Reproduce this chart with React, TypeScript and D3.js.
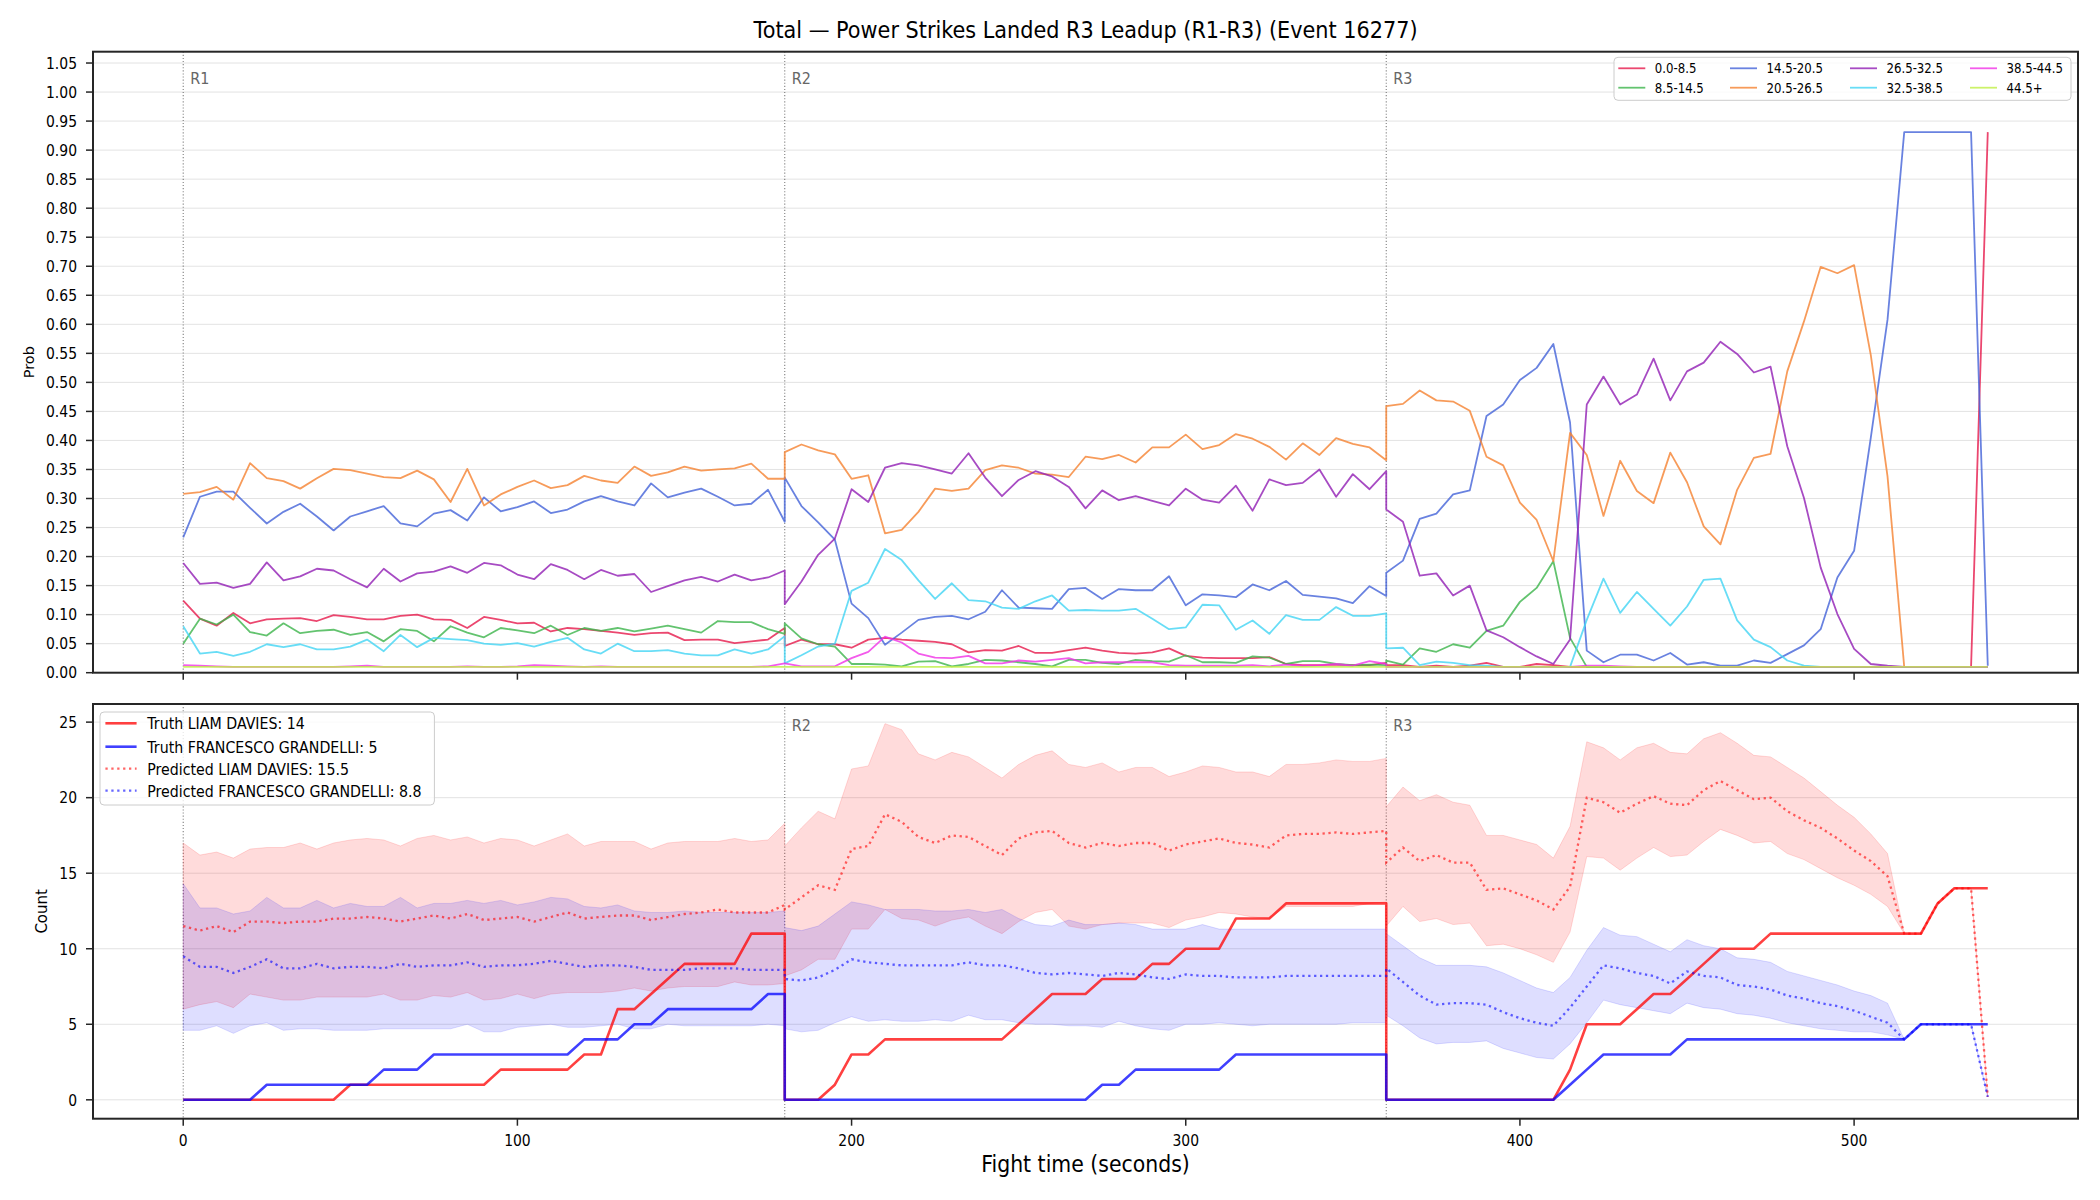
import React from "react";
import * as d3 from "d3";

// ---------------------------------------------------------------------------
// Sampling grid: each round is sampled every 5 s; consecutive rounds share
// their boundary second, so the series jump vertically at 180 s and 360 s.
// ---------------------------------------------------------------------------
const ROUND_STARTS = [0, 180, 360];
const ROUND_NAMES = ["R1", "R2", "R3"];
const ROUND_SECONDS = 180;
const STEP_SECONDS = 5;
const TIMES: number[] = ROUND_STARTS.flatMap((s) =>
  d3.range(s, s + ROUND_SECONDS + 1, STEP_SECONDS)
);

const X_TICKS = [0, 100, 200, 300, 400, 500];
const PROB_TICKS = [
  0, 0.05, 0.1, 0.15, 0.2, 0.25, 0.3, 0.35, 0.4, 0.45, 0.5, 0.55, 0.6, 0.65,
  0.7, 0.75, 0.8, 0.85, 0.9, 0.95, 1.0, 1.05,
];
const COUNT_TICKS = [0, 5, 10, 15, 20, 25];

// ---------------------------------------------------------------------------
// Outcome-bin probabilities (top panel)
// ---------------------------------------------------------------------------
const BIN_LABELS = [
  "0.0-8.5", "8.5-14.5", "14.5-20.5", "20.5-26.5",
  "26.5-32.5", "32.5-38.5", "38.5-44.5", "44.5+",
];
const BIN_COLORS = [
  "#e6194b", "#3cb44b", "#4363d8", "#f58231",
  "#911eb4", "#42d4f4", "#f032e6", "#bfef45",
];

const BIN_0_85 = [
  0.124, 0.093, 0.081, 0.103, 0.085, 0.092, 0.093, 0.094, 0.089, 0.099,
  0.096, 0.092, 0.092, 0.098, 0.100, 0.092, 0.091, 0.077, 0.096, 0.091,
  0.085, 0.086, 0.071, 0.077, 0.075, 0.072, 0.069, 0.065, 0.068, 0.069,
  0.056, 0.057, 0.057, 0.051, 0.054, 0.057, 0.077,
  0.046, 0.057, 0.049, 0.049, 0.043, 0.057, 0.060, 0.057, 0.055, 0.053,
  0.049, 0.035, 0.039, 0.038, 0.046, 0.034, 0.034, 0.039, 0.043, 0.038,
  0.034, 0.033, 0.035, 0.042, 0.029, 0.026, 0.025, 0.025, 0.025, 0.027,
  0.015, 0.013, 0.013, 0.014, 0.013, 0.013, 0.017,
  0.013, 0.013, 0.010, 0.012, 0.010, 0.012, 0.017, 0.010, 0.010, 0.015,
  0.013, 0.010, 0.010, 0.010, 0.010, 0.010, 0.010, 0.010, 0.010, 0.010,
  0.010, 0.010, 0.010, 0.010, 0.010, 0.010, 0.010, 0.010, 0.010, 0.010,
  0.010, 0.010, 0.010, 0.010, 0.010, 0.010, 0.931,
];
const BIN_85_145 = [
  0.050, 0.093, 0.083, 0.100, 0.070, 0.064, 0.085, 0.068, 0.072, 0.074,
  0.065, 0.070, 0.054, 0.075, 0.072, 0.054, 0.080, 0.069, 0.061, 0.077,
  0.073, 0.068, 0.081, 0.065, 0.077, 0.072, 0.077, 0.071, 0.076, 0.081,
  0.075, 0.069, 0.089, 0.087, 0.087, 0.075, 0.067,
  0.085, 0.059, 0.049, 0.045, 0.015, 0.015, 0.014, 0.011, 0.019, 0.020,
  0.011, 0.015, 0.022, 0.021, 0.018, 0.015, 0.011, 0.022, 0.022, 0.017,
  0.015, 0.022, 0.020, 0.019, 0.030, 0.018, 0.018, 0.017, 0.028, 0.026,
  0.015, 0.020, 0.020, 0.015, 0.013, 0.014, 0.013,
  0.021, 0.014, 0.042, 0.036, 0.049, 0.043, 0.072, 0.081, 0.122, 0.146,
  0.192, 0.060, 0.010, 0.010, 0.010, 0.010, 0.010, 0.010, 0.010, 0.010,
  0.010, 0.010, 0.010, 0.010, 0.010, 0.010, 0.010, 0.010, 0.010, 0.010,
  0.010, 0.010, 0.010, 0.010, 0.010, 0.010, 0.010,
];
const BIN_145_205 = [
  0.233, 0.303, 0.312, 0.312, 0.284, 0.257, 0.277, 0.291, 0.269, 0.245,
  0.269, 0.278, 0.287, 0.257, 0.252, 0.274, 0.280, 0.262, 0.302, 0.278,
  0.285, 0.295, 0.275, 0.281, 0.295, 0.304, 0.295, 0.288, 0.326, 0.302,
  0.310, 0.317, 0.303, 0.288, 0.291, 0.315, 0.260,
  0.336, 0.287, 0.259, 0.229, 0.119, 0.094, 0.048, 0.069, 0.091, 0.096,
  0.098, 0.092, 0.105, 0.142, 0.112, 0.111, 0.110, 0.144, 0.146, 0.127,
  0.144, 0.142, 0.142, 0.166, 0.116, 0.135, 0.133, 0.130, 0.152, 0.142,
  0.158, 0.134, 0.131, 0.128, 0.120, 0.149, 0.132,
  0.172, 0.193, 0.265, 0.274, 0.307, 0.314, 0.442, 0.462, 0.504, 0.525,
  0.566, 0.431, 0.038, 0.018, 0.031, 0.031, 0.021, 0.034, 0.014, 0.018,
  0.012, 0.012, 0.021, 0.017, 0.032, 0.047, 0.075, 0.164, 0.210, 0.405,
  0.608, 0.931, 0.931, 0.931, 0.931, 0.931, 0.012,
];
const BIN_205_265 = [
  0.308, 0.311, 0.320, 0.298, 0.361, 0.335, 0.330, 0.317, 0.335, 0.351,
  0.349, 0.343, 0.337, 0.335, 0.348, 0.333, 0.294, 0.351, 0.288, 0.307,
  0.320, 0.331, 0.318, 0.323, 0.339, 0.331, 0.327, 0.355, 0.339, 0.345,
  0.355, 0.348, 0.350, 0.352, 0.360, 0.334, 0.334,
  0.380, 0.393, 0.383, 0.376, 0.334, 0.340, 0.240, 0.246, 0.277, 0.317,
  0.313, 0.317, 0.349, 0.357, 0.353, 0.343, 0.341, 0.337, 0.372, 0.368,
  0.375, 0.362, 0.388, 0.388, 0.410, 0.385, 0.392, 0.411, 0.403, 0.389,
  0.367, 0.395, 0.375, 0.404, 0.394, 0.388, 0.366,
  0.459, 0.463, 0.486, 0.469, 0.467, 0.451, 0.372, 0.357, 0.293, 0.263,
  0.192, 0.413, 0.375, 0.270, 0.365, 0.313, 0.292, 0.379, 0.328, 0.252,
  0.221, 0.315, 0.370, 0.377, 0.519, 0.605, 0.699, 0.688, 0.702, 0.547,
  0.338, 0.010, 0.010, 0.010, 0.010, 0.010, 0.010,
];
const BIN_265_325 = [
  0.189, 0.153, 0.155, 0.146, 0.153, 0.190, 0.159, 0.166, 0.179, 0.176,
  0.161, 0.147, 0.179, 0.157, 0.171, 0.174, 0.183, 0.172, 0.189, 0.185,
  0.169, 0.161, 0.187, 0.177, 0.161, 0.177, 0.167, 0.170, 0.139, 0.149,
  0.159, 0.165, 0.157, 0.169, 0.159, 0.164, 0.176,
  0.118, 0.157, 0.203, 0.231, 0.316, 0.294, 0.353, 0.361, 0.357, 0.350,
  0.343, 0.378, 0.336, 0.304, 0.332, 0.347, 0.338, 0.320, 0.283, 0.314,
  0.297, 0.304, 0.296, 0.288, 0.317, 0.298, 0.293, 0.322, 0.279, 0.333,
  0.323, 0.327, 0.350, 0.303, 0.342, 0.316, 0.347,
  0.281, 0.260, 0.167, 0.171, 0.133, 0.150, 0.073, 0.061, 0.044, 0.028,
  0.015, 0.057, 0.462, 0.510, 0.462, 0.479, 0.541, 0.469, 0.519, 0.534,
  0.570, 0.549, 0.517, 0.527, 0.390, 0.301, 0.181, 0.101, 0.041, 0.015,
  0.012, 0.010, 0.010, 0.010, 0.010, 0.010, 0.010,
];
const BIN_325_385 = [
  0.080, 0.033, 0.036, 0.029, 0.036, 0.049, 0.044, 0.049, 0.040, 0.040,
  0.045, 0.057, 0.037, 0.065, 0.044, 0.060, 0.058, 0.056, 0.050, 0.048,
  0.051, 0.045, 0.053, 0.060, 0.040, 0.033, 0.050, 0.037, 0.037, 0.039,
  0.033, 0.030, 0.030, 0.040, 0.033, 0.040, 0.063,
  0.016, 0.030, 0.045, 0.050, 0.141, 0.155, 0.213, 0.194, 0.159, 0.127,
  0.154, 0.125, 0.123, 0.112, 0.110, 0.123, 0.133, 0.107, 0.108, 0.107,
  0.107, 0.110, 0.093, 0.075, 0.078, 0.117, 0.116, 0.074, 0.090, 0.067,
  0.099, 0.091, 0.091, 0.113, 0.098, 0.098, 0.102,
  0.042, 0.043, 0.013, 0.019, 0.017, 0.013, 0.012, 0.010, 0.010, 0.010,
  0.010, 0.010, 0.091, 0.162, 0.103, 0.139, 0.110, 0.081, 0.114, 0.160,
  0.162, 0.090, 0.057, 0.044, 0.021, 0.012, 0.010, 0.010, 0.010, 0.010,
  0.010, 0.010, 0.010, 0.010, 0.010, 0.010, 0.010,
];
const BIN_385_445 = [
  0.013, 0.012, 0.011, 0.010, 0.010, 0.010, 0.010, 0.010, 0.010, 0.010,
  0.011, 0.012, 0.010, 0.010, 0.010, 0.010, 0.010, 0.011, 0.010, 0.010,
  0.011, 0.013, 0.012, 0.011, 0.010, 0.011, 0.010, 0.010, 0.010, 0.010,
  0.010, 0.010, 0.010, 0.010, 0.010, 0.011, 0.016,
  0.016, 0.011, 0.011, 0.011, 0.025, 0.036, 0.062, 0.052, 0.033, 0.026,
  0.025, 0.029, 0.016, 0.016, 0.021, 0.019, 0.022, 0.025, 0.016, 0.018,
  0.018, 0.018, 0.018, 0.013, 0.012, 0.012, 0.012, 0.012, 0.013, 0.011,
  0.014, 0.012, 0.013, 0.015, 0.012, 0.020, 0.015,
  0.010, 0.010, 0.010, 0.010, 0.010, 0.010, 0.010, 0.010, 0.010, 0.010,
  0.010, 0.010, 0.012, 0.012, 0.011, 0.010, 0.010, 0.010, 0.010, 0.010,
  0.010, 0.010, 0.010, 0.010, 0.010, 0.010, 0.010, 0.010, 0.010, 0.010,
  0.010, 0.010, 0.010, 0.010, 0.010, 0.010, 0.010,
];
const BIN_445_UP = [
  0.010, 0.010, 0.010, 0.010, 0.010, 0.010, 0.010, 0.010, 0.010, 0.010,
  0.010, 0.010, 0.010, 0.010, 0.010, 0.010, 0.010, 0.010, 0.010, 0.010,
  0.010, 0.010, 0.010, 0.010, 0.010, 0.010, 0.010, 0.010, 0.010, 0.010,
  0.010, 0.010, 0.010, 0.010, 0.010, 0.010, 0.010,
  0.010, 0.010, 0.010, 0.010, 0.010, 0.010, 0.010, 0.010, 0.010, 0.010,
  0.010, 0.010, 0.010, 0.010, 0.010, 0.010, 0.010, 0.010, 0.010, 0.010,
  0.010, 0.010, 0.010, 0.010, 0.010, 0.010, 0.010, 0.010, 0.010, 0.010,
  0.010, 0.010, 0.010, 0.010, 0.010, 0.010, 0.010,
  0.010, 0.010, 0.010, 0.010, 0.010, 0.010, 0.010, 0.010, 0.010, 0.010,
  0.010, 0.010, 0.010, 0.010, 0.010, 0.010, 0.010, 0.010, 0.010, 0.010,
  0.010, 0.010, 0.010, 0.010, 0.010, 0.010, 0.010, 0.010, 0.010, 0.010,
  0.010, 0.010, 0.010, 0.010, 0.010, 0.010, 0.010,
];
const BIN_SERIES = [
  BIN_0_85, BIN_85_145, BIN_145_205, BIN_205_265,
  BIN_265_325, BIN_325_385, BIN_385_445, BIN_445_UP,
];

// ---------------------------------------------------------------------------
// Cumulative counts (bottom panel)
// ---------------------------------------------------------------------------
const FIGHTER_A = "LIAM DAVIES";
const FIGHTER_B = "FRANCESCO GRANDELLI";
const PREDICTED_FINAL_A = 15.5;
const PREDICTED_FINAL_B = 8.8;

const TRUTH_A = [
  0, 0, 0, 0, 0, 0, 0, 0, 0, 0,
  1, 1, 1, 1, 1, 1, 1, 1, 1, 2,
  2, 2, 2, 2, 3, 3, 6, 6, 7, 8,
  9, 9, 9, 9, 11, 11, 11,
  0, 0, 0, 1, 3, 3, 4, 4, 4, 4,
  4, 4, 4, 4, 5, 6, 7, 7, 7, 8,
  8, 8, 9, 9, 10, 10, 10, 12, 12, 12,
  13, 13, 13, 13, 13, 13, 13,
  0, 0, 0, 0, 0, 0, 0, 0, 0, 0,
  0, 2, 5, 5, 5, 6, 7, 7, 8, 9,
  10, 10, 10, 11, 11, 11, 11, 11, 11, 11,
  11, 11, 11, 13, 14, 14, 14,
];
const TRUTH_B = [
  0, 0, 0, 0, 0, 1, 1, 1, 1, 1,
  1, 1, 2, 2, 2, 3, 3, 3, 3, 3,
  3, 3, 3, 3, 4, 4, 4, 5, 5, 6,
  6, 6, 6, 6, 6, 7, 7,
  0, 0, 0, 0, 0, 0, 0, 0, 0, 0,
  0, 0, 0, 0, 0, 0, 0, 0, 0, 1,
  1, 2, 2, 2, 2, 2, 2, 3, 3, 3,
  3, 3, 3, 3, 3, 3, 3,
  0, 0, 0, 0, 0, 0, 0, 0, 0, 0,
  0, 1, 2, 3, 3, 3, 3, 3, 4, 4,
  4, 4, 4, 4, 4, 4, 4, 4, 4, 4,
  4, 4, 5, 5, 5, 5, 5,
];
const PRED_A = [
  11.5, 11.2, 11.5, 11.1, 11.8, 11.8, 11.7, 11.8, 11.8, 12.0,
  12.0, 12.1, 12.0, 11.8, 12.0, 12.2, 12.0, 12.3, 11.9, 12.0,
  12.1, 11.8, 12.1, 12.4, 12.0, 12.1, 12.2, 12.2, 11.9, 12.1,
  12.3, 12.4, 12.6, 12.4, 12.4, 12.4, 12.9,
  12.6, 13.4, 14.2, 13.9, 16.6, 16.8, 18.9, 18.4, 17.4, 17.0,
  17.5, 17.4, 16.8, 16.2, 17.3, 17.7, 17.8, 17.0, 16.7, 17.0,
  16.8, 17.0, 17.0, 16.5, 16.9, 17.1, 17.3, 17.0, 16.9, 16.7,
  17.5, 17.6, 17.6, 17.7, 17.6, 17.7, 17.8,
  15.7, 16.7, 15.8, 16.2, 15.7, 15.7, 13.9, 14.0, 13.6, 13.2,
  12.6, 14.1, 20.0, 19.7, 19.0, 19.6, 20.1, 19.6, 19.5, 20.5,
  21.1, 20.5, 19.9, 20.0, 19.1, 18.5, 18.0, 17.3, 16.5, 15.8,
  14.8, 11.0, 11.0, 13.0, 14.0, 14.0, 0.2,
];
const PRED_A_HI = [
  17.0, 16.2, 16.4, 16.0, 16.6, 16.7, 16.7, 17.0, 16.6, 17.0,
  17.2, 17.3, 17.2, 16.8, 17.3, 17.5, 17.2, 17.4, 17.0, 17.3,
  17.2, 16.8, 17.2, 17.6, 16.8, 17.1, 17.1, 17.1, 16.6, 17.0,
  17.1, 17.1, 17.1, 17.3, 17.1, 17.2, 18.3,
  16.8, 18.0, 19.1, 18.6, 21.9, 22.1, 24.9, 24.5, 22.9, 22.5,
  23.0, 22.7, 22.0, 21.3, 22.2, 22.8, 23.1, 22.2, 22.0, 22.3,
  21.7, 22.0, 22.0, 21.4, 21.7, 22.1, 22.0, 21.7, 21.7, 21.4,
  22.2, 22.2, 22.3, 22.5, 22.4, 22.4, 22.6,
  19.4, 20.7, 19.8, 20.2, 19.7, 19.5, 17.5, 17.5, 17.2, 16.9,
  16.0, 18.1, 23.7, 23.3, 22.5, 23.3, 23.6, 23.0, 22.9, 23.9,
  24.3, 23.6, 22.8, 22.7, 22.0, 21.3, 20.4, 19.5, 18.7, 17.6,
  16.3, 11.0, 11.0, 13.0, 14.0, 14.0, 0.2,
];
const PRED_A_LO = [
  6.0, 6.3, 6.5, 6.1, 7.0, 6.8, 6.6, 6.6, 6.8, 6.8,
  6.8, 6.8, 7.0, 6.6, 6.6, 6.9, 6.8, 7.1, 6.6, 6.7,
  7.0, 6.7, 7.0, 7.1, 7.1, 7.1, 7.2, 7.4, 7.2, 7.4,
  7.5, 7.5, 7.5, 7.8, 7.6, 7.6, 7.7,
  8.2, 8.6, 9.3, 9.3, 11.3, 11.3, 12.6, 12.0, 11.9, 11.5,
  11.9, 12.1, 11.5, 11.0, 11.8, 12.4, 12.6, 11.5, 11.3, 11.6,
  11.7, 11.7, 11.7, 11.4, 11.9, 12.1, 12.4, 12.3, 12.1, 12.0,
  12.8, 12.8, 12.8, 12.8, 12.8, 13.0, 13.1,
  11.5, 12.8, 11.8, 12.0, 11.6, 11.7, 10.2, 10.3, 10.0, 9.6,
  9.1, 11.1, 16.1, 16.0, 15.2, 16.0, 16.7, 16.1, 16.2, 17.1,
  17.9, 17.5, 17.0, 17.1, 16.3, 15.9, 15.3, 14.7, 14.2, 13.6,
  12.8, 11.0, 11.0, 13.0, 14.0, 14.0, 0.2,
];
const PRED_B = [
  9.5, 8.8, 8.8, 8.4, 8.8, 9.3, 8.7, 8.7, 9.0, 8.7,
  8.8, 8.8, 8.7, 9.0, 8.8, 8.9, 8.9, 9.1, 8.8, 8.9,
  8.9, 9.0, 9.2, 9.0, 8.8, 8.9, 8.9, 8.8, 8.6, 8.6,
  8.6, 8.7, 8.7, 8.7, 8.6, 8.6, 8.6,
  8.0, 7.9, 8.1, 8.6, 9.3, 9.1, 9.0, 8.9, 8.9, 8.9,
  8.9, 9.1, 8.9, 8.9, 8.7, 8.4, 8.3, 8.4, 8.3, 8.2,
  8.4, 8.3, 8.1, 8.0, 8.3, 8.2, 8.2, 8.1, 8.1, 8.1,
  8.2, 8.2, 8.2, 8.2, 8.2, 8.2, 8.2,
  8.7, 7.8, 6.9, 6.3, 6.4, 6.4, 6.3, 5.8, 5.4, 5.1,
  4.9, 6.1, 7.5, 8.9, 8.7, 8.4, 8.2, 7.7, 8.5, 8.2,
  8.1, 7.6, 7.5, 7.3, 6.9, 6.7, 6.4, 6.2, 5.9, 5.5,
  5.1, 4.0, 5.0, 5.0, 5.0, 5.0, 0.2,
];
const PRED_B_HI = [
  14.3, 12.7, 12.7, 12.3, 12.5, 13.4, 12.7, 12.7, 13.2, 12.7,
  13.0, 12.8, 12.8, 13.4, 12.7, 13.0, 13.0, 13.2, 13.0, 13.2,
  12.9, 13.1, 13.4, 13.3, 12.8, 12.7, 12.9, 12.5, 12.4, 12.4,
  12.5, 12.4, 12.4, 12.4, 12.4, 12.4, 12.5,
  11.4, 11.2, 11.5, 12.3, 13.1, 12.9, 12.6, 12.6, 12.6, 12.5,
  12.5, 12.6, 12.4, 12.6, 12.0, 11.6, 11.5, 11.9, 11.6, 11.6,
  11.7, 11.6, 11.3, 11.3, 11.3, 11.6, 11.3, 11.3, 11.3, 11.3,
  11.3, 11.3, 11.3, 11.3, 11.3, 11.3, 11.3,
  11.0, 10.2, 9.4, 8.9, 8.9, 8.9, 8.8, 8.4, 7.9, 7.4,
  7.1, 8.1, 9.9, 11.4, 10.9, 10.8, 10.3, 9.8, 10.6, 10.2,
  10.0, 9.4, 9.3, 9.1, 8.5, 8.2, 7.9, 7.6, 7.2, 6.9,
  6.4, 4.0, 5.0, 5.0, 5.0, 5.0, 0.2,
];
const PRED_B_LO = [
  4.6, 4.6, 4.9, 4.4, 4.9, 5.1, 4.6, 4.7, 4.7, 4.6,
  4.6, 4.6, 4.7, 4.7, 4.7, 4.7, 4.7, 5.0, 4.5, 4.5,
  4.8, 4.9, 5.0, 4.8, 4.8, 4.9, 5.0, 4.7, 4.7, 5.0,
  4.9, 4.9, 4.9, 4.9, 4.9, 5.0, 4.9,
  4.7, 4.5, 4.6, 5.1, 5.5, 5.2, 5.3, 5.2, 5.2, 5.3,
  5.2, 5.6, 5.3, 5.3, 5.1, 5.0, 5.0, 4.9, 4.9, 4.8,
  5.2, 4.9, 4.7, 4.6, 5.0, 5.0, 5.1, 5.0, 4.9, 5.0,
  5.0, 5.0, 5.0, 5.0, 5.1, 5.1, 5.1,
  5.6, 4.9, 4.1, 3.7, 3.8, 3.8, 3.9, 3.4, 3.1, 2.8,
  2.7, 3.7, 5.1, 6.6, 6.3, 6.1, 5.9, 5.7, 6.4, 6.1,
  6.0, 5.7, 5.6, 5.4, 5.1, 4.9, 4.7, 4.6, 4.5, 4.5,
  4.3, 4.0, 5.0, 5.0, 5.0, 5.0, 0.2,
];

// ---------------------------------------------------------------------------
// Layout
// ---------------------------------------------------------------------------
const W = 2100;
const H = 1200;
const FONT = "'DejaVu Sans', Verdana, sans-serif";
const AX_LEFT = 93;
const AX_RIGHT = 2078;
const TOP_AX = { top: 51.7, bottom: 672.7 };
const BOT_AX = { top: 704, bottom: 1118.7 };
const X_DOMAIN = [-27, 567];
const PROB_DOMAIN = [0, 1.0695];
const COUNT_DOMAIN = [-1.25, 26.2];
const SPINE = "#262626";
const GRID = "#b0b0b0";
const TICK_LEN = 7;
// text is set in a slightly condensed face: taller glyphs, same advance width
const SQUEEZE = 0.87;
const TICK_FONT = 16;

const RED = "#ff0000";
const BLUE = "#0000ff";

const fmt2 = d3.format(".2f");

type LabelProps = {
  x: number;
  y: number;
  size: number;
  anchor?: "start" | "middle" | "end";
  fill?: string;
  dy?: string;
  rotate?: number;
  children: React.ReactNode;
};

function Label({ x, y, size, anchor = "start", fill = "#000", dy, rotate = 0, children }: LabelProps) {
  return (
    <text
      transform={`translate(${x},${y}) rotate(${rotate}) scale(${SQUEEZE},1)`}
      fontSize={size}
      textAnchor={anchor}
      fill={fill}
      dy={dy}
    >
      {children}
    </text>
  );
}

export default function App() {
  const x = d3.scaleLinear().domain(X_DOMAIN).range([AX_LEFT, AX_RIGHT]);
  const yProb = d3
    .scaleLinear()
    .domain(PROB_DOMAIN)
    .range([TOP_AX.bottom, TOP_AX.top]);
  const yCount = d3
    .scaleLinear()
    .domain(COUNT_DOMAIN)
    .range([BOT_AX.bottom, BOT_AX.top]);

  const probLine = d3
    .line<number>()
    .x((_, i) => x(TIMES[i]))
    .y((d) => yProb(d));
  const countLine = d3
    .line<number>()
    .x((_, i) => x(TIMES[i]))
    .y((d) => yCount(d));
  const band = (lo: number[], hi: number[]) =>
    d3
      .area<number>()
      .x((_, i) => x(TIMES[i]))
      .y0((_, i) => yCount(lo[i]))
      .y1((d) => yCount(d))(hi) as string;

  const plotW = AX_RIGHT - AX_LEFT;

  const countLegend = [
    { label: `Truth ${FIGHTER_A}: ${TRUTH_A[TRUTH_A.length - 1]}`, color: RED, dotted: false },
    { label: `Truth ${FIGHTER_B}: ${TRUTH_B[TRUTH_B.length - 1]}`, color: BLUE, dotted: false },
    { label: `Predicted ${FIGHTER_A}: ${PREDICTED_FINAL_A}`, color: RED, dotted: true },
    { label: `Predicted ${FIGHTER_B}: ${PREDICTED_FINAL_B}`, color: BLUE, dotted: true },
  ];
  const countLegendRows = [723.3, 746.7, 768.7, 790.7];
  const binLegendRows = [68.3, 87.7];
  const binLegendCols = [1618.3, 1730, 1850, 1970];

  const roundLines = (ax: { top: number; bottom: number }, key: string) =>
    ROUND_STARTS.map((t) => (
      <line
        key={`${key}-${t}`}
        x1={x(t)}
        x2={x(t)}
        y1={ax.top}
        y2={ax.bottom}
        stroke="#000"
        strokeOpacity={0.5}
        strokeWidth={1.1}
        strokeDasharray="1.1 2"
      />
    ));

  return (
    <svg
      width={W}
      height={H}
      viewBox={`0 0 ${W} ${H}`}
      style={{ position: "fixed", left: 0, top: 0, display: "block", background: "#fff" }}
      fontFamily={FONT}
    >
      <defs>
        <clipPath id="clip-top">
          <rect x={AX_LEFT} y={TOP_AX.top} width={plotW} height={TOP_AX.bottom - TOP_AX.top} />
        </clipPath>
        <clipPath id="clip-bot">
          <rect x={AX_LEFT} y={BOT_AX.top} width={plotW} height={BOT_AX.bottom - BOT_AX.top} />
        </clipPath>
      </defs>
      <rect x={0} y={0} width={W} height={H} fill="#fff" />

      {/* Title */}
      <text x={(AX_LEFT + AX_RIGHT) / 2} y={38} textAnchor="middle" fontSize={23} textLength={664} lengthAdjust="spacingAndGlyphs" fill="#000">
        Total — Power Strikes Landed R3 Leadup (R1-R3) (Event 16277)
      </text>

      {/* ================= Top panel: bin probabilities ================= */}
      <g>
        {PROB_TICKS.filter((v) => v > 0).map((v) => (
          <line key={`pg-${v}`} x1={AX_LEFT} x2={AX_RIGHT} y1={yProb(v)} y2={yProb(v)} stroke={GRID} strokeOpacity={0.35} strokeWidth={1} />
        ))}
        {roundLines(TOP_AX, "tr")}
        {ROUND_STARTS.map((t, i) => (
          <Label key={`trl-${t}`} x={x(t) + 7} y={TOP_AX.top + 32} size={16.5} fill="#666">
            {ROUND_NAMES[i]}
          </Label>
        ))}
        <g clipPath="url(#clip-top)">
          {BIN_SERIES.map((vals, i) => (
            <path
              key={BIN_LABELS[i]}
              d={probLine(vals) as string}
              fill="none"
              stroke={BIN_COLORS[i]}
              strokeOpacity={0.8}
              strokeWidth={1.8}
              strokeLinejoin="round"
            />
          ))}
        </g>
        <rect x={AX_LEFT} y={TOP_AX.top} width={plotW} height={TOP_AX.bottom - TOP_AX.top} fill="none" stroke={SPINE} strokeWidth={2} />
        {PROB_TICKS.map((v) => (
          <g key={`pt-${v}`}>
            <line x1={AX_LEFT - TICK_LEN} x2={AX_LEFT} y1={yProb(v)} y2={yProb(v)} stroke={SPINE} strokeWidth={1.5} />
            <Label x={AX_LEFT - 16} y={yProb(v)} dy="0.36em" anchor="end" size={TICK_FONT}>
              {fmt2(v)}
            </Label>
          </g>
        ))}
        {X_TICKS.map((t) => (
          <line key={`ptx-${t}`} x1={x(t)} x2={x(t)} y1={TOP_AX.bottom} y2={TOP_AX.bottom + TICK_LEN} stroke={SPINE} strokeWidth={1.5} />
        ))}
        <text transform={`translate(34, ${(TOP_AX.top + TOP_AX.bottom) / 2}) rotate(-90)`} textAnchor="middle" fontSize={14.5} fill="#000">
          Prob
        </text>

        {/* bin legend */}
        <rect x={1614} y={57.3} width={457} height={43} rx={4} fill="#fff" fillOpacity={0.8} stroke="#cccccc" strokeWidth={1} />
        {BIN_LABELS.map((lab, i) => {
          const col = Math.floor(i / 2);
          const row = i % 2;
          const lx = binLegendCols[col];
          const ly = binLegendRows[row];
          return (
            <g key={`lg-${lab}`}>
              <line x1={lx} x2={lx + 27} y1={ly} y2={ly} stroke={BIN_COLORS[i]} strokeOpacity={0.8} strokeWidth={1.8} />
              <Label x={lx + 36.5} y={ly} dy="0.36em" size={13.5}>
                {lab}
              </Label>
            </g>
          );
        })}
      </g>

      {/* ================= Bottom panel: cumulative counts ================= */}
      <g>
        {COUNT_TICKS.map((v) => (
          <line key={`cg-${v}`} x1={AX_LEFT} x2={AX_RIGHT} y1={yCount(v)} y2={yCount(v)} stroke={GRID} strokeOpacity={0.35} strokeWidth={1} />
        ))}
        {roundLines(BOT_AX, "br")}
        {ROUND_STARTS.slice(1).map((t, i) => (
          <Label key={`brl-${t}`} x={x(t) + 7} y={BOT_AX.top + 26.5} size={16.5} fill="#666">
            {ROUND_NAMES[i + 1]}
          </Label>
        ))}
        <g clipPath="url(#clip-bot)">
          <path d={band(PRED_A_LO, PRED_A_HI)} fill={RED} fillOpacity={0.14} stroke={RED} strokeOpacity={0.14} strokeWidth={1} />
          <path d={band(PRED_B_LO, PRED_B_HI)} fill={BLUE} fillOpacity={0.13} stroke={BLUE} strokeOpacity={0.13} strokeWidth={1} />
          <path d={countLine(TRUTH_A) as string} fill="none" stroke={RED} strokeOpacity={0.75} strokeWidth={2.6} strokeLinejoin="round" />
          <path d={countLine(TRUTH_B) as string} fill="none" stroke={BLUE} strokeOpacity={0.75} strokeWidth={2.6} strokeLinejoin="round" />
          <path d={countLine(PRED_A) as string} fill="none" stroke={RED} strokeOpacity={0.6} strokeWidth={2.3} strokeDasharray="2.3 3.6" />
          <path d={countLine(PRED_B) as string} fill="none" stroke={BLUE} strokeOpacity={0.6} strokeWidth={2.3} strokeDasharray="2.3 3.6" />
        </g>
        <rect x={AX_LEFT} y={BOT_AX.top} width={plotW} height={BOT_AX.bottom - BOT_AX.top} fill="none" stroke={SPINE} strokeWidth={2} />
        {COUNT_TICKS.map((v) => (
          <g key={`ct-${v}`}>
            <line x1={AX_LEFT - TICK_LEN} x2={AX_LEFT} y1={yCount(v)} y2={yCount(v)} stroke={SPINE} strokeWidth={1.5} />
            <Label x={AX_LEFT - 16} y={yCount(v)} dy="0.36em" anchor="end" size={TICK_FONT}>
              {v}
            </Label>
          </g>
        ))}
        {X_TICKS.map((t) => (
          <g key={`ctx-${t}`}>
            <line x1={x(t)} x2={x(t)} y1={BOT_AX.bottom} y2={BOT_AX.bottom + TICK_LEN} stroke={SPINE} strokeWidth={1.5} />
            <Label x={x(t)} y={1145.5} anchor="middle" size={TICK_FONT}>
              {t}
            </Label>
          </g>
        ))}
        <text transform={`translate(47, ${(BOT_AX.top + BOT_AX.bottom) / 2}) rotate(-90)`} textAnchor="middle" fontSize={15} fill="#000">
          Count
        </text>
        <Label x={(AX_LEFT + AX_RIGHT) / 2} y={1172} anchor="middle" size={23.5}>
          Fight time (seconds)
        </Label>

        {/* count legend */}
        <rect x={100} y={712} width={334.4} height={93} rx={4} fill="#fff" fillOpacity={0.8} stroke="#cccccc" strokeWidth={1} />
        {countLegend.map((e, i) => (
          <g key={`cl-${i}`}>
            <line
              x1={105.4}
              x2={136.6}
              y1={countLegendRows[i]}
              y2={countLegendRows[i]}
              stroke={e.color}
              strokeOpacity={e.dotted ? 0.6 : 0.75}
              strokeWidth={e.dotted ? 2.3 : 2.6}
              strokeDasharray={e.dotted ? "2.3 3.6" : undefined}
            />
            <Label x={147.3} y={countLegendRows[i]} dy="0.36em" size={16.3}>
              {e.label}
            </Label>
          </g>
        ))}
      </g>
    </svg>
  );
}
